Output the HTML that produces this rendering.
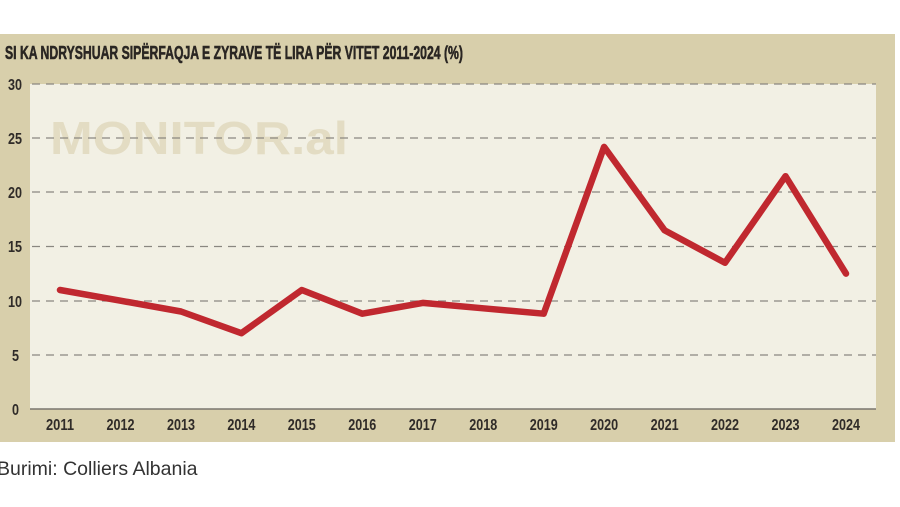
<!DOCTYPE html>
<html><head><meta charset="utf-8"><style>
body{margin:0;width:900px;height:507px;background:#fff;overflow:hidden;position:relative;font-family:"Liberation Sans",sans-serif}
.cap{position:absolute;left:-3px;top:458px;font-size:19.5px;color:#333}
</style></head><body>
<svg width="900" height="507" style="position:absolute;left:0;top:0">
<rect x="0" y="34" width="895" height="408" fill="#d8cfab"/>
<rect x="30" y="84" width="846" height="325" fill="#f2f0e4"/>
<text x="5" y="59" font-family="Liberation Sans Narrow, Liberation Sans, sans-serif" font-weight="bold" font-size="18" fill="#2a2623" stroke="#2a2623" stroke-width="0.6" textLength="458" lengthAdjust="spacingAndGlyphs">SI KA NDRYSHUAR SIPËRFAQJA E ZYRAVE TË LIRA PËR VITET 2011-2024 (%)</text>
<text x="50" y="154" font-family="Liberation Sans" font-weight="bold" font-size="46" fill="#e3dcc3" textLength="298" lengthAdjust="spacingAndGlyphs">MONITOR.al</text>
<g stroke="#8a8780" stroke-width="1.3" stroke-dasharray="8,6">
<line x1="32" y1="84" x2="876" y2="84"/><line x1="32" y1="138" x2="876" y2="138"/>
<line x1="32" y1="192" x2="876" y2="192"/><line x1="32" y1="246.5" x2="876" y2="246.5"/>
<line x1="32" y1="301" x2="876" y2="301"/><line x1="32" y1="355" x2="876" y2="355"/>
</g>
<line x1="30" y1="409" x2="876" y2="409" stroke="#7a776f" stroke-width="1.5"/>
<g font-family="Liberation Sans Narrow, Liberation Sans, sans-serif" font-weight="bold" font-size="16" fill="#2f2b28">
<text x="8" y="90" textLength="14" lengthAdjust="spacingAndGlyphs">30</text><text x="8" y="144" textLength="14" lengthAdjust="spacingAndGlyphs">25</text><text x="8" y="198" textLength="14" lengthAdjust="spacingAndGlyphs">20</text><text x="8" y="252" textLength="14" lengthAdjust="spacingAndGlyphs">15</text><text x="8" y="307" textLength="14" lengthAdjust="spacingAndGlyphs">10</text><text x="12" y="361" textLength="7" lengthAdjust="spacingAndGlyphs">5</text><text x="12" y="415" textLength="7" lengthAdjust="spacingAndGlyphs">0</text>
</g>
<g font-family="Liberation Sans Narrow, Liberation Sans, sans-serif" font-weight="bold" font-size="16" fill="#2f2b28" text-anchor="middle" lengthAdjust="spacingAndGlyphs">
<text x="60" y="430" textLength="28" lengthAdjust="spacingAndGlyphs">2011</text><text x="120.5" y="430" textLength="28" lengthAdjust="spacingAndGlyphs">2012</text><text x="181" y="430" textLength="28" lengthAdjust="spacingAndGlyphs">2013</text><text x="241.4" y="430" textLength="28" lengthAdjust="spacingAndGlyphs">2014</text><text x="301.8" y="430" textLength="28" lengthAdjust="spacingAndGlyphs">2015</text><text x="362.3" y="430" textLength="28" lengthAdjust="spacingAndGlyphs">2016</text><text x="422.8" y="430" textLength="28" lengthAdjust="spacingAndGlyphs">2017</text><text x="483.2" y="430" textLength="28" lengthAdjust="spacingAndGlyphs">2018</text><text x="543.7" y="430" textLength="28" lengthAdjust="spacingAndGlyphs">2019</text><text x="604.1" y="430" textLength="28" lengthAdjust="spacingAndGlyphs">2020</text><text x="664.6" y="430" textLength="28" lengthAdjust="spacingAndGlyphs">2021</text><text x="725" y="430" textLength="28" lengthAdjust="spacingAndGlyphs">2022</text><text x="785.5" y="430" textLength="28" lengthAdjust="spacingAndGlyphs">2023</text><text x="846" y="430" textLength="28" lengthAdjust="spacingAndGlyphs">2024</text>
</g>
<polyline fill="none" stroke="#c0282f" stroke-width="6.5" stroke-linejoin="round" stroke-linecap="round" points="60,290 120.5,300.7 181,311.5 241.4,333.2 301.8,290 362.3,313.7 422.8,302.9 483.2,308.3 543.7,313.7 604.1,146.9 664.6,230.3 725,262.8 785.5,176.2 846,273.6"/>
</svg>
<div class="cap">Burimi: Colliers Albania</div>
</body></html>
